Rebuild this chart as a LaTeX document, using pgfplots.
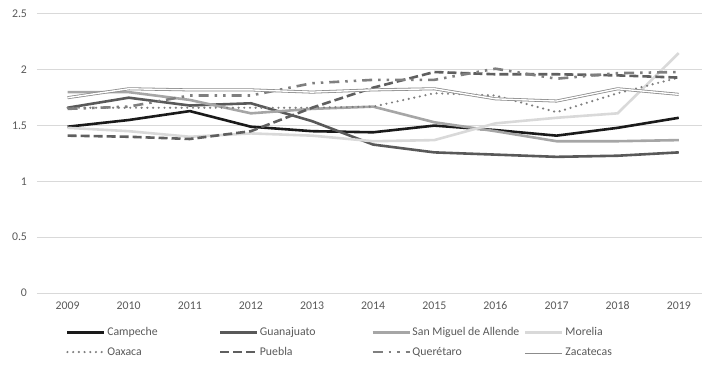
\documentclass[border=0pt]{standalone}
\usepackage{pgfplots}
\pgfplotsset{compat=1.18}
\usepackage{fontspec}
\setmainfont{Carlito}
\definecolor{txt}{HTML}{595959}
\definecolor{grd}{HTML}{D9D9D9}
\definecolor{cCam}{HTML}{1A1A1A}
\definecolor{cGua}{HTML}{595959}
\definecolor{cSMA}{HTML}{A6A6A6}
\definecolor{cMor}{HTML}{D9D9D9}
\definecolor{cOax}{HTML}{7F7F7F}
\definecolor{cPue}{HTML}{5F5F5F}
\definecolor{cQue}{HTML}{7F7F7F}
\definecolor{cZac}{HTML}{8C8C8C}
\begin{document}
\begin{tikzpicture}
\useasboundingbox (-37bp,-72bp) rectangle (665bp,293bp);
\begin{axis}[
  scale only axis, width=665bp, height=279bp,
  xmin=-0.5, xmax=10.38, ymin=0, ymax=2.5,
  axis line style={draw=none},
  ytick={0,0.5,1,1.5,2,2.5},
  yticklabels={0,0.5,1,1.5,2,2.5},
  xtick={0,...,10},
  xticklabels={2009,2010,2011,2012,2013,2014,2015,2016,2017,2018,2019},
  major tick length=0pt,
  ymajorgrids, grid style={grd, line width=1bp},
  tick label style={font=\fontsize{11.8bp}{14bp}\selectfont, text=txt},
  yticklabel style={xshift=-6.5bp},
  xticklabel style={yshift=-5bp},
  clip=false,
  legend columns=4,
  legend cell align=left,
  legend style={draw=none, fill=none, at={(axis description cs:0.0436,-0.123)}, anchor=north west,
    font=\fontsize{11.8bp}{14bp}\selectfont, text=txt, inner sep=0pt, row sep=10bp,
    nodes={inner xsep=1.5bp, inner ysep=0pt},
    /tikz/every odd column/.style={column sep=0bp}},
  legend image code/.code={\draw[#1] (0bp,0bp) -- (37bp,0bp);},
]
\addplot[cCam, line width=2.6bp] coordinates {(0,1.49)(1,1.55)(2,1.63)(3,1.49)(4,1.45)(5,1.44)(6,1.50)(7,1.46)(8,1.41)(9,1.48)(10,1.57)};
\addlegendentry{\makebox[110bp][l]{Campeche}}
\addplot[cGua, line width=2.6bp] coordinates {(0,1.66)(1,1.75)(2,1.68)(3,1.70)(4,1.54)(5,1.33)(6,1.26)(7,1.24)(8,1.22)(9,1.23)(10,1.26)};
\addlegendentry{\makebox[110bp][l]{Guanajuato}}
\addplot[cSMA, line width=2.6bp] coordinates {(0,1.80)(1,1.80)(2,1.73)(3,1.61)(4,1.65)(5,1.67)(6,1.53)(7,1.45)(8,1.36)(9,1.36)(10,1.37)};
\addlegendentry{\makebox[110bp][l]{San Miguel de Allende}}
\addplot[cMor, line width=2.6bp] coordinates {(0,1.48)(1,1.45)(2,1.40)(3,1.43)(4,1.41)(5,1.36)(6,1.37)(7,1.52)(8,1.57)(9,1.61)(10,2.15)};
\addlegendentry{\makebox[110bp][l]{Morelia}}
\addplot[cOax, line width=2.4bp, line cap=round, dash pattern=on 0bp off 5.7bp] coordinates {(0,1.66)(1,1.66)(2,1.66)(3,1.66)(4,1.66)(5,1.67)(6,1.79)(7,1.77)(8,1.62)(9,1.79)(10,1.93)};
\addlegendentry{\makebox[110bp][l]{Oaxaca}}
\addplot[cPue, line width=2.6bp, dash pattern=on 9bp off 4bp] coordinates {(0,1.41)(1,1.40)(2,1.38)(3,1.45)(4,1.66)(5,1.84)(6,1.98)(7,1.96)(8,1.96)(9,1.95)(10,1.93)};
\addlegendentry{\makebox[110bp][l]{Puebla}}
\addplot[cQue, line width=2.6bp, dash pattern=on 10bp off 6bp on 2.5bp off 6bp on 2.5bp off 6bp] coordinates {(0,1.65)(1,1.67)(2,1.77)(3,1.77)(4,1.88)(5,1.91)(6,1.91)(7,2.01)(8,1.92)(9,1.97)(10,1.98)};
\addlegendentry{\makebox[110bp][l]{Querétaro}}
\addplot[cZac, line width=0.8bp, double=white, double distance=1.4bp] coordinates {(0,1.75)(1,1.83)(2,1.82)(3,1.82)(4,1.80)(5,1.82)(6,1.83)(7,1.74)(8,1.72)(9,1.83)(10,1.78)};
\addlegendentry{\makebox[110bp][l]{Zacatecas}}
\end{axis}
\end{tikzpicture}
\end{document}
